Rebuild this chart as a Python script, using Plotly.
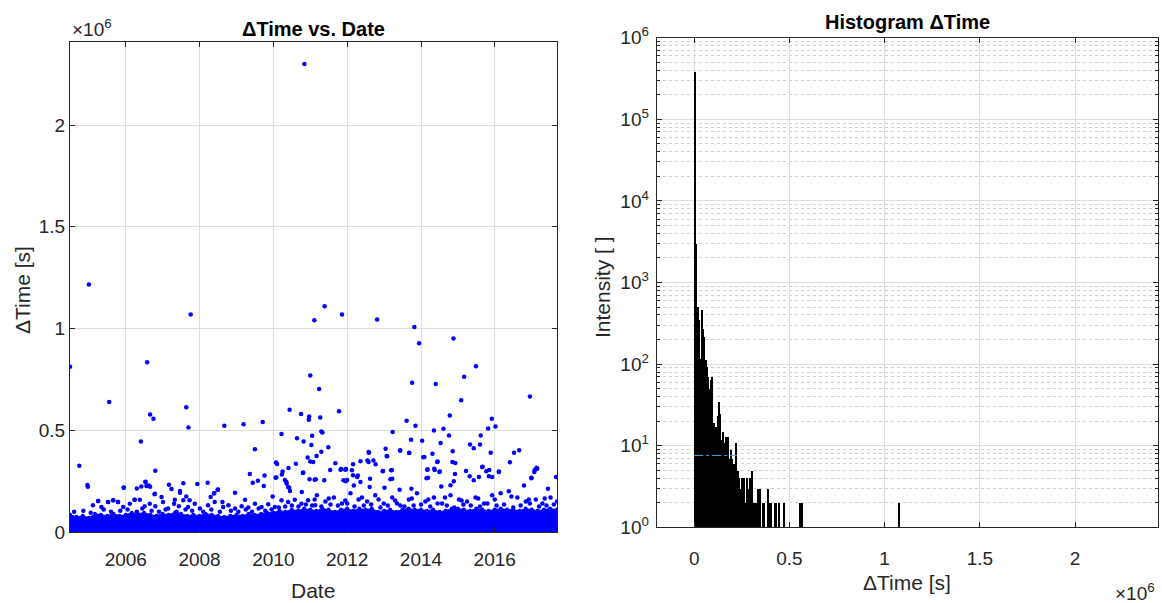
import pandas as pd
import plotly.graph_objects as go

# ---------------- data: left panel (ΔTime vs Date), values in 1e6 s ----------------
band_dates = ["2004-06-28", "2004-09-01", "2004-11-01",
              "2005-01-01", "2005-03-01", "2005-05-01", "2005-07-01", "2005-09-01", "2005-11-01",
              "2006-01-01", "2006-03-01", "2006-05-01", "2006-07-01", "2006-09-01", "2006-11-01",
              "2007-01-01", "2007-03-01", "2007-05-01", "2007-07-01", "2007-09-01", "2007-11-01",
              "2008-01-01", "2008-03-01", "2008-05-01", "2008-07-01", "2008-09-01", "2008-11-01",
              "2009-01-01", "2009-03-01", "2009-05-01", "2009-07-01", "2009-09-01", "2009-11-01",
              "2010-01-01", "2010-03-01", "2010-05-01", "2010-07-01", "2010-09-01", "2010-11-01",
              "2011-01-01", "2011-03-01", "2011-05-01", "2011-07-01", "2011-09-01", "2011-11-01",
              "2012-01-01", "2012-03-01", "2012-05-01", "2012-07-01", "2012-09-01", "2012-11-01",
              "2013-01-01", "2013-03-01", "2013-05-01", "2013-07-01", "2013-09-01", "2013-11-01",
              "2014-01-01", "2014-03-01", "2014-05-01", "2014-07-01", "2014-09-01", "2014-11-01",
              "2015-01-01", "2015-03-01", "2015-05-01", "2015-07-01", "2015-09-01", "2015-11-01",
              "2016-01-01", "2016-03-01", "2016-05-01", "2016-07-01", "2016-09-01", "2016-11-01",
              "2017-01-01", "2017-03-01", "2017-05-01", "2017-07-01", "2017-09-08"]
band_top = [0.085, 0.075, 0.080,
            0.070, 0.090, 0.085, 0.080, 0.090, 0.080,
            0.085, 0.095, 0.090, 0.095, 0.085, 0.080,
            0.090, 0.085, 0.095, 0.090, 0.080, 0.085,
            0.080, 0.090, 0.085, 0.080, 0.075, 0.080,
            0.085, 0.080, 0.090, 0.085, 0.090, 0.095,
            0.095, 0.105, 0.100, 0.110, 0.105, 0.115,
            0.110, 0.105, 0.115, 0.110, 0.100, 0.110,
            0.115, 0.105, 0.115, 0.110, 0.115, 0.100,
            0.105, 0.110, 0.100, 0.110, 0.115, 0.110,
            0.110, 0.105, 0.110, 0.100, 0.105, 0.115,
            0.115, 0.110, 0.105, 0.115, 0.110, 0.105,
            0.110, 0.115, 0.110, 0.110, 0.105, 0.115,
            0.110, 0.105, 0.110, 0.115, 0.110]

# scattered points (decimal year, value in 1e6 s)
outliers = [
    (2004.49, 0.812), (2004.74, 0.326), (2004.96, 0.231), (2004.97, 0.222), (2005.00, 1.216),
    (2005.55, 0.639), (2005.94, 0.219), (2006.30, 0.214), (2006.41, 0.445), (2006.54, 0.247),
    (2006.58, 0.834), (2006.56, 0.226), (2006.62, 0.229), (2006.66, 0.222), (2006.66, 0.577),
    (2006.75, 0.557), (2006.80, 0.301), (2006.78, 0.186),
    (2007.17, 0.232), (2007.24, 0.211), (2007.47, 0.193), (2007.56, 0.239), (2007.64, 0.613),
    (2007.70, 0.514), (2007.76, 1.069), (2007.94, 0.236), (2008.22, 0.242), (2008.39, 0.189),
    (2008.50, 0.209), (2008.67, 0.522), (2008.96, 0.193),
    (2009.19, 0.530), (2009.36, 0.285), (2009.44, 0.242), (2009.50, 0.407), (2009.58, 0.252),
    (2009.71, 0.540), (2009.74, 0.226), (2009.76, 0.278),
    (2010.07, 0.341), (2010.10, 0.334), (2010.08, 0.269), (2010.22, 0.481), (2010.23, 0.283),
    (2010.25, 0.297), (2010.31, 0.255), (2010.35, 0.247), (2010.41, 0.315), (2010.44, 0.601),
    (2010.43, 0.217),
    (2010.64, 0.461), (2010.75, 0.580), (2010.82, 0.445), (2010.81, 0.292), (2010.84, 2.300),
    (2010.96, 0.552), (2010.97, 0.568), (2011.00, 0.769), (2010.93, 0.366), (2011.03, 0.428),
    (2011.05, 0.473), (2011.00, 0.346), (2011.11, 1.040), (2010.98, 0.259), (2011.15, 0.259),
    (2011.17, 0.374), (2011.24, 0.703), (2011.27, 0.563), (2011.30, 0.494), (2011.33, 0.489),
    (2011.30, 0.394), (2011.39, 1.110), (2011.38, 0.254), (2011.49, 0.417), (2011.54, 0.305),
    (2011.68, 0.338), (2011.78, 0.593), (2011.86, 1.069), (2011.84, 0.310), (2011.97, 0.310),
    (2012.00, 0.255),
    (2012.16, 0.333), (2012.29, 0.278), (2012.36, 0.348), (2012.55, 0.351), (2012.59, 0.390),
    (2012.62, 0.262), (2012.71, 0.351), (2012.77, 0.333), (2012.81, 1.044), (2012.96, 0.298),
    (2013.04, 0.409), (2013.07, 0.374), (2013.17, 0.259), (2013.21, 0.305), (2013.23, 0.491),
    (2013.44, 0.400), (2013.61, 0.547), (2013.68, 0.390), (2013.73, 0.453), (2013.76, 0.733),
    (2013.82, 1.008), (2013.85, 0.522), (2013.95, 0.928),
    (2014.03, 0.448), (2014.06, 0.367), (2014.15, 0.264), (2014.18, 0.308), (2014.31, 0.384),
    (2014.35, 0.499), (2014.40, 0.727), (2014.45, 0.346), (2014.51, 0.297), (2014.37, 0.305),
    (2014.53, 0.437), (2014.61, 0.507), (2014.76, 0.474), (2014.78, 0.573), (2014.86, 0.397),
    (2014.88, 0.951), (2014.85, 0.344), (2014.93, 0.339), (2014.92, 0.285),
    (2015.09, 0.647), (2015.17, 0.763), (2015.33, 0.430), (2015.43, 0.412), (2015.49, 0.815),
    (2015.60, 0.430), (2015.62, 0.474), (2015.67, 0.321), (2015.82, 0.509), (2015.89, 0.389),
    (2015.92, 0.557), (2016.02, 0.519), (2015.85, 0.305), (2016.11, 0.297),
    (2016.41, 0.343), (2016.52, 0.389), (2016.66, 0.402), (2016.95, 0.666), (2017.08, 0.305),
    (2017.13, 0.316), (2016.99, 0.264), (2017.66, 0.270),
]
mid_points = [
    (2005.25, 0.152), (2005.52, 0.148), (2005.66, 0.156), (2005.79, 0.148), (2005.95, 0.218),
    (2006.24, 0.159), (2006.42, 0.224), (2006.53, 0.246), (2006.79, 0.188), (2006.97, 0.172),
    (2007.33, 0.159), (2007.47, 0.202), (2007.64, 0.175), (2007.73, 0.156), (2008.30, 0.172),
    (2008.40, 0.192), (2008.49, 0.208), (2008.62, 0.148), (2009.23, 0.159), (2009.98, 0.175),
    (2010.06, 0.267), (2010.36, 0.238), (2010.40, 0.221), (2010.45, 0.202), (2010.61, 0.336),
    (2010.77, 0.197), (2010.80, 0.290), (2011.12, 0.257), (2011.08, 0.344),
    (2011.82, 0.306), (2011.95, 0.306), (2012.13, 0.303), (2012.16, 0.279), (2012.27, 0.270),
    (2012.58, 0.393), (2012.58, 0.344), (2012.97, 0.300), (2013.08, 0.372), (2013.19, 0.303),
    (2013.22, 0.262), (2013.43, 0.401), (2013.68, 0.388), (2011.90, 0.254), (2011.96, 0.250),
    (2012.18, 0.229), (2012.36, 0.246), (2012.61, 0.221), (2013.01, 0.218), (2013.42, 0.208),
    (2013.74, 0.213), (2014.09, 0.369), (2014.17, 0.306), (2014.19, 0.267), (2014.36, 0.311),
    (2014.44, 0.344), (2014.50, 0.295), (2014.55, 0.224), (2014.80, 0.230), (2014.89, 0.250),
    (2015.22, 0.300), (2015.32, 0.274), (2015.43, 0.254), (2015.57, 0.270), (2015.66, 0.320),
    (2015.77, 0.298), (2015.84, 0.274), (2015.93, 0.270), (2016.11, 0.295), (2016.79, 0.229),
    (2016.99, 0.267), (2017.07, 0.295), (2017.15, 0.311), (2017.44, 0.213),
]
row_points = [
    (2005.11, 0.131), (2005.25, 0.152), (2005.34, 0.123), (2005.52, 0.148), (2005.66, 0.156),
    (2005.79, 0.148), (2005.93, 0.123), (2006.11, 0.139), (2006.24, 0.159), (2006.38, 0.159),
    (2006.51, 0.126), (2006.65, 0.139), (2006.80, 0.126), (2007.01, 0.148), (2007.15, 0.115),
    (2007.31, 0.139), (2007.44, 0.126), (2007.56, 0.156), (2007.69, 0.123), (2007.87, 0.139),
    (2008.01, 0.115), (2008.23, 0.131), (2008.41, 0.148), (2008.64, 0.123), (2008.78, 0.131),
    (2008.96, 0.115), (2009.14, 0.126), (2009.32, 0.120), (2009.50, 0.139), (2009.68, 0.123),
    (2009.86, 0.136), (2010.04, 0.123), (2010.22, 0.156), (2010.40, 0.148), (2010.58, 0.159),
    (2010.76, 0.139), (2010.94, 0.156), (2011.13, 0.131),
    (2011.18, 0.180), (2011.41, 0.150), (2011.64, 0.170), (2011.86, 0.140), (2012.09, 0.190),
    (2012.31, 0.160), (2012.54, 0.150), (2012.76, 0.180), (2012.99, 0.140), (2013.22, 0.170),
    (2013.44, 0.130), (2013.67, 0.160), (2013.89, 0.190), (2014.12, 0.150), (2014.35, 0.170),
    (2014.57, 0.140), (2014.80, 0.180), (2015.03, 0.160), (2015.25, 0.150), (2015.48, 0.170),
    (2015.71, 0.140), (2015.93, 0.180), (2016.16, 0.190), (2016.38, 0.200), (2016.61, 0.170),
    (2016.84, 0.150), (2017.11, 0.160), (2017.29, 0.140), (2017.51, 0.170), (2017.69, 0.150),
    (2011.05, 0.130), (2011.30, 0.125), (2011.55, 0.135), (2011.75, 0.130), (2012.00, 0.140),
    (2012.20, 0.125), (2012.45, 0.130), (2012.65, 0.135), (2012.90, 0.120), (2013.10, 0.130),
    (2013.35, 0.140), (2013.55, 0.125), (2013.80, 0.130), (2014.00, 0.135), (2014.25, 0.125),
    (2014.45, 0.140), (2014.70, 0.130), (2014.90, 0.120), (2015.15, 0.135), (2015.35, 0.130),
    (2015.60, 0.125), (2015.80, 0.140), (2016.05, 0.130), (2016.25, 0.135), (2016.50, 0.120),
    (2016.70, 0.130), (2016.95, 0.140), (2017.20, 0.125), (2017.40, 0.130), (2017.60, 0.135),
    (2004.60, 0.100), (2004.85, 0.105), (2005.05, 0.095), (2005.40, 0.110), (2005.60, 0.100),
    (2005.85, 0.105), (2006.05, 0.110), (2006.30, 0.100), (2006.45, 0.115), (2006.70, 0.105),
    (2006.90, 0.100), (2007.08, 0.110), (2007.38, 0.100), (2007.62, 0.110), (2007.80, 0.105),
    (2008.10, 0.100), (2008.32, 0.110), (2008.55, 0.100), (2008.85, 0.105), (2009.05, 0.100),
    (2009.25, 0.110), (2009.42, 0.100), (2009.60, 0.115), (2009.78, 0.105), (2009.95, 0.110),
    (2010.15, 0.120), (2010.32, 0.125), (2010.50, 0.130), (2010.68, 0.125), (2010.88, 0.135),
    (2011.12, 0.160), (2011.50, 0.165), (2011.95, 0.155), (2012.40, 0.170), (2012.85, 0.160),
    (2013.30, 0.155), (2013.75, 0.165), (2014.20, 0.160), (2014.65, 0.170), (2015.10, 0.155),
    (2015.55, 0.165), (2016.00, 0.160), (2016.45, 0.175), (2016.92, 0.160), (2017.35, 0.165),
]

# ---------------- data: right panel (histogram) ----------------
bin_width = 7000.0  # s
hist_counts = [380000, 3000, 505, 347, 118, 460, 275, 218, 112, 93,
               70, 50, 64, 71, 19, 15, 17, 23, 35, 25,
               12, 15, 11, 13, 8, 13, 7, 9, 7, 6,
               5, 11, 5, 4, 3, 4, 3, 4, 2, 4,
               3, 4, 2, 5, 2, 2, 2, 3, 3, 3]
far_bins = [51, 52, 55, 56, 57, 60, 61, 63, 67, 79, 80, 153]
far_counts = [2, 2, 3, 2, 2, 2, 2, 2, 2, 2, 2, 2]
ref_line_x = [0.0, 0.223]   # 1e6 s
ref_line_y = [7.6, 7.6]


def yr2dt(y):
    yi = int(y)
    a = pd.Timestamp(year=yi, month=1, day=1)
    b = pd.Timestamp(year=yi + 1, month=1, day=1)
    return a + (b - a) * (y - yi)


SC = 1e6
BLUE = "#0000ff"
TXT = "#262626"
GRID = "#dedede"
FONT = "Liberation Sans, Arial, sans-serif"

fig = go.Figure()

# dense band
fig.add_trace(go.Scatter(
    x=pd.to_datetime(band_dates), y=[v * SC for v in band_top],
    mode="lines+markers", fill="tozeroy", fillcolor=BLUE,
    line=dict(color=BLUE, width=1), marker=dict(color=BLUE, size=4),
    xaxis="x", yaxis="y", showlegend=False, hoverinfo="skip"))

for pts in (row_points, mid_points, outliers):
    fig.add_trace(go.Scatter(
        x=[yr2dt(p[0]) for p in pts], y=[p[1] * SC for p in pts],
        mode="markers", marker=dict(color=BLUE, size=4.5),
        xaxis="x", yaxis="y", showlegend=False))

# histogram
centers = [bin_width * (i + 0.5) for i in range(len(hist_counts))]
centers += [bin_width * (b + 0.5) for b in far_bins]
counts = hist_counts + far_counts
fig.add_trace(go.Bar(
    x=centers, y=counts, width=bin_width,
    marker=dict(color="black", line=dict(width=0)),
    xaxis="x2", yaxis="y2", showlegend=False))
fig.add_trace(go.Scatter(
    x=[v * SC for v in ref_line_x], y=ref_line_y, mode="lines",
    line=dict(color="#4da6d9", width=1, dash="dashdot"),
    xaxis="x2", yaxis="y2", showlegend=False))

W, H = 1162, 603
L1, R1, T1, B1 = 70, 557, 42, 532
L2, R2, T2, B2 = 656.7, 1157.7, 37.7, 527.3

axcommon = dict(showline=True, linecolor=TXT, linewidth=1, mirror="ticks",
                ticks="inside", ticklen=5, tickcolor=TXT, showgrid=True,
                gridcolor=GRID, gridwidth=1, zeroline=False, automargin=False,
                tickfont=dict(family=FONT, size=19, color=TXT))

fig.update_layout(
    width=W, height=H, margin=dict(l=0, r=0, t=0, b=0, pad=0), autosize=False,
    paper_bgcolor="white", plot_bgcolor="white", bargap=0,
    xaxis=dict(domain=[L1 / W, R1 / W], anchor="y", type="date",
               range=["2004-06-28", "2017-09-08"], tick0="2006-01-01",
               dtick="M24", tickformat="%Y", ticklabelstandoff=10, **axcommon),
    yaxis=dict(domain=[1 - B1 / H, 1 - T1 / H], anchor="x",
               range=[0, 2.408e6], tickmode="array",
               tickvals=[0, 0.5e6, 1e6, 1.5e6, 2e6],
               ticktext=["0", "0.5", "1", "1.5", "2"], **axcommon),
    xaxis2=dict(domain=[L2 / W, R2 / W], anchor="y2",
                range=[-0.197e6, 2.434e6], tickmode="array",
                tickvals=[0, 0.5e6, 1e6, 1.5e6, 2e6],
                ticktext=["0", "0.5", "1", "1.5", "2"], ticklabelstandoff=14, **axcommon),
    yaxis2=dict(domain=[1 - B2 / H, 1 - T2 / H], anchor="x2", type="log",
                range=[0, 6], tickmode="array",
                tickvals=[1, 10, 100, 1e3, 1e4, 1e5, 1e6],
                ticktext=["10<sup>%d</sup>" % k for k in range(7)],
                ticklabelstandoff=3,
                minor=dict(showgrid=True, gridcolor="#cfcfcf", griddash="dot",
                           ticks="inside", ticklen=3, tickcolor=TXT, dtick="D1"),
                **axcommon),
)

ann = []
def txt(x, y, s, size=20, bold=False, angle=0, xanchor="center", yanchor="middle", color=TXT):
    ann.append(dict(x=x / W, y=1 - y / H, xref="paper", yref="paper", text=("<b>%s</b>" % s) if bold else s,
                    showarrow=False, textangle=angle, xanchor=xanchor, yanchor=yanchor,
                    font=dict(family=FONT, size=size, color=color)))

txt(313, 29, "ΔTime vs. Date", size=20, bold=True, color="black")
txt(907, 22, "Histogram ΔTime", size=20, bold=True, color="black")
txt(313, 590, "Date", size=21)
txt(907, 582, "ΔTime [s]", size=21)
txt(22, 290, "ΔTime [s]", size=21, angle=-90)
txt(603, 287, "Intensity [ ]", size=21, angle=-90)
txt(70, 28, "×10<sup>6</sup>", size=19, xanchor="left")
txt(1157, 592, "×10<sup>6</sup>", size=19, xanchor="right")
fig.update_layout(annotations=ann)

fig.write_html("out.html", config={"displayModeBar": False},
               post_script="document.body.style.margin='0px';")
